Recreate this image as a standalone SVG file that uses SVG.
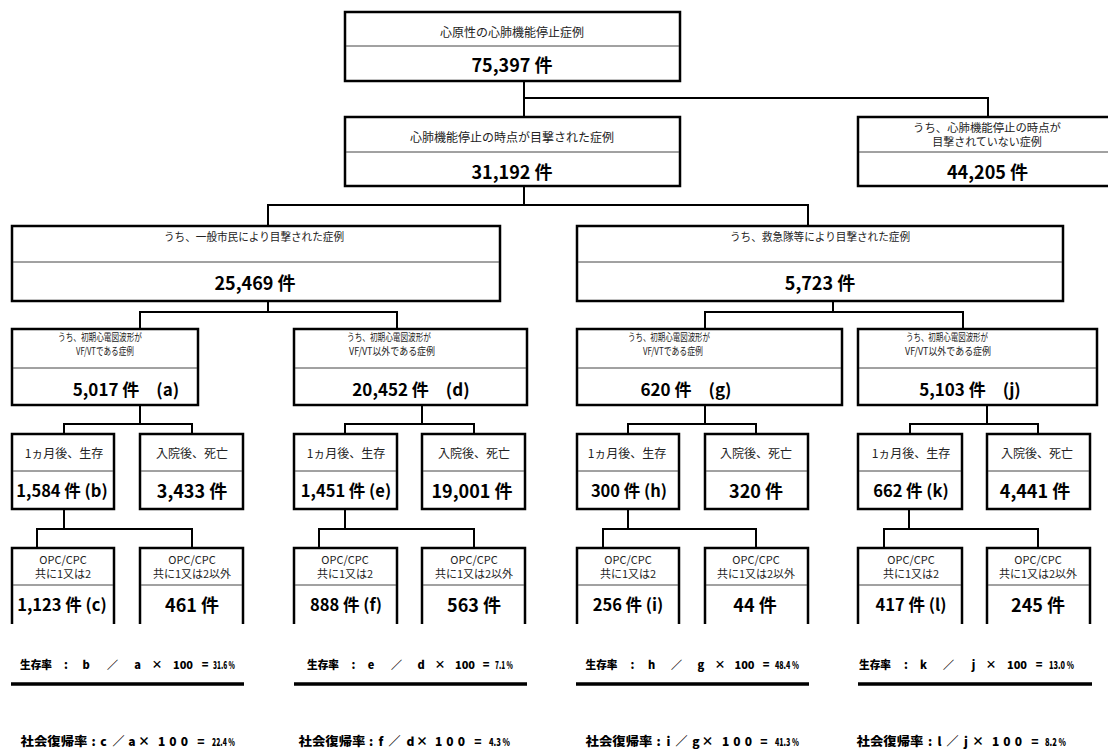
<svg xmlns="http://www.w3.org/2000/svg" width="1108" height="749" viewBox="0 0 1108 749">
<style>
.bg{fill:#fff}
.box{fill:#fff;stroke:#000;stroke-width:2.5}
.ob{fill:none;stroke:#000;stroke-width:2.5}
.dv{stroke:#444;stroke-width:1}
.conn{fill:none;stroke:#000;stroke-width:2}
.rule{fill:none;stroke:#000;stroke-width:3.5}
text{font-family:"Noto Sans CJK JP","Noto Sans",sans-serif;text-anchor:middle;fill:#222}
.t12{font-size:12px}
.t11{font-size:11px}
.t10{font-size:10.5px}
.n18{font-size:18px;font-weight:700;fill:#000}
.n17{font-size:17px;font-weight:700;fill:#000}
.n16{font-size:16.5px;font-weight:700;fill:#000}
.f{font-size:11px;font-weight:900;fill:#000}
.f2{font-size:12px;font-weight:900;fill:#000}
.v{font-size:10px;font-weight:900;fill:#000;text-anchor:start}
</style>
<rect class="bg" x="0" y="0" width="1108" height="749"/>

<g id="connectors">
<path class="conn" d="M524 81V117M524 98H988V117M524 186V205M268 226V205H808V226M268 301V312M140 329V312H397V329M833 301V312M705 329V312H963V329M140 405V424M64 434V424H192V434M422 405V424M345 434V424H474V434M705 405V424M628 434V424H756V434M987 405V424M910 434V424H1038V434M64 509V529M37 548V529H192V548M345 509V529M319 548V529H474V548M628 509V529M603 548V529H756V548M909 509V529M884 548V529H1038V548"/>
</g>

<g id="n-total">
<rect class="box" x="345" y="12" width="335" height="69"/>
<line class="dv" x1="346" y1="46" x2="679" y2="46"/>
<text class="t12" x="512" y="36.5">心原性の心肺機能停止症例</text>
<text class="n18" x="512" y="72">75,397 件</text>
</g>

<g id="n-witnessed">
<rect class="box" x="345" y="117" width="335" height="69"/>
<line class="dv" x1="346" y1="152" x2="679" y2="152"/>
<text class="t12" x="512" y="141.5">心肺機能停止の時点が目撃された症例</text>
<text class="n18" x="512" y="179">31,192 件</text>
</g>

<g id="n-unwitnessed">
<rect class="box" x="858" y="117" width="270" height="69"/>
<line class="dv" x1="859" y1="152" x2="1108" y2="152"/>
<text class="t11"><tspan x="987" y="131.5" textLength="148" lengthAdjust="spacingAndGlyphs">うち、心肺機能停止の時点が</tspan><tspan x="987" y="145.8">目撃されていない症例</tspan></text>
<text class="n18" x="987.5" y="179">44,205 件</text>
</g>

<g id="n-citizen">
<rect class="box" x="12" y="226" width="488" height="75"/>
<line class="dv" x1="13" y1="262" x2="499" y2="262"/>
<text class="t11" x="254" y="241" textLength="180" lengthAdjust="spacingAndGlyphs">うち、一般市民により目撃された症例</text>
<text class="n18" x="255" y="290">25,469 件</text>
</g>

<g id="n-ems">
<rect class="box" x="577" y="226" width="486" height="75"/>
<line class="dv" x1="578" y1="262" x2="1062" y2="262"/>
<text class="t11" x="820" y="241" textLength="180" lengthAdjust="spacingAndGlyphs">うち、救急隊等により目撃された症例</text>
<text class="n18" x="820" y="290">5,723 件</text>
</g>

<g id="n-a">
<rect class="box" x="12" y="329" width="186" height="76"/>
<line class="dv" x1="13" y1="368" x2="197" y2="368"/>
<text class="t10"><tspan x="100" y="341" textLength="84" lengthAdjust="spacingAndGlyphs">うち、初期心電図波形が</tspan><tspan x="105" y="354.5" textLength="58" lengthAdjust="spacingAndGlyphs">VF/VTである症例</tspan></text>
<text class="n17" x="126" y="396">5,017 件　(a)</text>
</g>

<g id="n-d">
<rect class="box" x="294" y="329" width="233" height="76"/>
<line class="dv" x1="295" y1="368" x2="526" y2="368"/>
<text class="t10"><tspan x="389" y="341" textLength="84" lengthAdjust="spacingAndGlyphs">うち、初期心電図波形が</tspan><tspan x="392" y="354.5" textLength="86" lengthAdjust="spacingAndGlyphs">VF/VT以外である症例</tspan></text>
<text class="n17" x="411" y="396">20,452 件　(d)</text>
</g>

<g id="n-g">
<rect class="box" x="577" y="329" width="265" height="76"/>
<line class="dv" x1="578" y1="368" x2="841" y2="368"/>
<text class="t10"><tspan x="669" y="341" textLength="82" lengthAdjust="spacingAndGlyphs">うち、初期心電図波形が</tspan><tspan x="673" y="354.5" textLength="60" lengthAdjust="spacingAndGlyphs">VF/VTである症例</tspan></text>
<text class="n17" x="686" y="396">620 件　(g)</text>
</g>

<g id="n-j">
<rect class="box" x="858" y="329" width="239" height="76"/>
<line class="dv" x1="859" y1="368" x2="1096" y2="368"/>
<text class="t10"><tspan x="947" y="341" textLength="82" lengthAdjust="spacingAndGlyphs">うち、初期心電図波形が</tspan><tspan x="948" y="354.5" textLength="86" lengthAdjust="spacingAndGlyphs">VF/VT以外である症例</tspan></text>
<text class="n17" x="970" y="396">5,103 件　(j)</text>
</g>

<g id="n-b">
<rect class="box" x="12" y="434" width="102" height="75"/>
<line class="dv" x1="13" y1="471" x2="113" y2="471"/>
<text class="t12" x="64" y="458">1ヵ月後、生存</text>
<text class="n16" x="62" y="497">1,584 件 (b)</text>
</g>
<g id="n-a-dead">
<rect class="box" x="140" y="434" width="103" height="75"/>
<line class="dv" x1="141" y1="471" x2="242" y2="471"/>
<text class="t12" x="192" y="458">入院後、死亡</text>
<text class="n18" x="192" y="497.5">3,433 件</text>
</g>
<g id="n-e">
<rect class="box" x="294" y="434" width="103" height="75"/>
<line class="dv" x1="295" y1="471" x2="396" y2="471"/>
<text class="t12" x="346" y="458">1ヵ月後、生存</text>
<text class="n16" x="346" y="497">1,451 件 (e)</text>
</g>
<g id="n-d-dead">
<rect class="box" x="422" y="434" width="103" height="75"/>
<line class="dv" x1="423" y1="471" x2="524" y2="471"/>
<text class="t12" x="474" y="458">入院後、死亡</text>
<text class="n18" x="472" y="497.5">19,001 件</text>
</g>
<g id="n-h">
<rect class="box" x="577" y="434" width="102" height="75"/>
<line class="dv" x1="578" y1="471" x2="678" y2="471"/>
<text class="t12" x="627" y="458">1ヵ月後、生存</text>
<text class="n16" x="629" y="497">300 件 (h)</text>
</g>
<g id="n-g-dead">
<rect class="box" x="705" y="434" width="103" height="75"/>
<line class="dv" x1="706" y1="471" x2="807" y2="471"/>
<text class="t12" x="756" y="458">入院後、死亡</text>
<text class="n18" x="756" y="497.5">320 件</text>
</g>
<g id="n-k">
<rect class="box" x="858" y="434" width="104" height="75"/>
<line class="dv" x1="859" y1="471" x2="961" y2="471"/>
<text class="t12" x="911" y="458">1ヵ月後、生存</text>
<text class="n16" x="911" y="497">662 件 (k)</text>
</g>
<g id="n-j-dead">
<rect class="box" x="987" y="434" width="103" height="75"/>
<line class="dv" x1="988" y1="471" x2="1089" y2="471"/>
<text class="t12" x="1037" y="458">入院後、死亡</text>
<text class="n18" x="1035" y="497.5">4,441 件</text>
</g>

<g id="n-c">
<path class="ob" d="M12 624V548H114V624"/>
<line class="dv" x1="13" y1="585" x2="113" y2="585"/>
<text class="t11"><tspan x="63" y="564">OPC/CPC</tspan><tspan x="63" y="578">共に1又は2</tspan></text>
<text class="n16" x="62" y="611">1,123 件 (c)</text>
</g>
<g id="n-b-other">
<path class="ob" d="M140 624V548H243V624"/>
<line class="dv" x1="141" y1="585" x2="242" y2="585"/>
<text class="t11"><tspan x="192" y="564">OPC/CPC</tspan><tspan x="192" y="578">共に1又は2以外</tspan></text>
<text class="n18" x="192" y="611.5">461 件</text>
</g>
<g id="n-f">
<path class="ob" d="M294 624V548H397V624"/>
<line class="dv" x1="295" y1="585" x2="396" y2="585"/>
<text class="t11"><tspan x="345" y="564">OPC/CPC</tspan><tspan x="345" y="578">共に1又は2</tspan></text>
<text class="n16" x="346" y="611">888 件 (f)</text>
</g>
<g id="n-e-other">
<path class="ob" d="M422 624V548H525V624"/>
<line class="dv" x1="423" y1="585" x2="524" y2="585"/>
<text class="t11"><tspan x="474" y="564">OPC/CPC</tspan><tspan x="474" y="578">共に1又は2以外</tspan></text>
<text class="n18" x="474" y="611.5">563 件</text>
</g>
<g id="n-i">
<path class="ob" d="M577 624V548H679V624"/>
<line class="dv" x1="578" y1="585" x2="678" y2="585"/>
<text class="t11"><tspan x="628" y="564">OPC/CPC</tspan><tspan x="628" y="578">共に1又は2</tspan></text>
<text class="n16" x="628" y="611">256 件 (i)</text>
</g>
<g id="n-h-other">
<path class="ob" d="M705 624V548H808V624"/>
<line class="dv" x1="706" y1="585" x2="807" y2="585"/>
<text class="t11"><tspan x="756" y="564">OPC/CPC</tspan><tspan x="756" y="578">共に1又は2以外</tspan></text>
<text class="n18" x="755" y="611.5">44 件</text>
</g>
<g id="n-l">
<path class="ob" d="M858 624V548H962V624"/>
<line class="dv" x1="859" y1="585" x2="961" y2="585"/>
<text class="t11"><tspan x="911" y="564">OPC/CPC</tspan><tspan x="911" y="578">共に1又は2</tspan></text>
<text class="n16" x="911" y="611">417 件 (l)</text>
</g>
<g id="n-k-other">
<path class="ob" d="M987 624V548H1090V624"/>
<line class="dv" x1="988" y1="585" x2="1089" y2="585"/>
<text class="t11"><tspan x="1038" y="564">OPC/CPC</tspan><tspan x="1038" y="578">共に1又は2以外</tspan></text>
<text class="n18" x="1038" y="611.5">245 件</text>
</g>

<g id="rules">
<path class="rule" d="M11 684H244M294 684H527M576 684H809M858 684H1092"/>
</g>

<g id="formula-1">
<text class="f" y="669"><tspan x="36" textLength="32" lengthAdjust="spacingAndGlyphs">生存率</tspan><tspan x="66">:</tspan><tspan x="86">b</tspan><tspan x="112.5">／</tspan><tspan x="137.5">a</tspan><tspan x="157">×</tspan><tspan x="183">100</tspan><tspan x="205">=</tspan></text>
<text class="v" x="213" y="669" textLength="22" lengthAdjust="spacingAndGlyphs">31.6 %</text>
<text class="f2" y="746"><tspan x="54" textLength="67" lengthAdjust="spacingAndGlyphs">社会復帰率</tspan><tspan x="93.5">:</tspan><tspan x="103.5">c</tspan><tspan x="118.5">／</tspan><tspan x="132">a</tspan><tspan x="144">×</tspan><tspan x="173" textLength="30" lengthAdjust="spacing">100</tspan><tspan x="201">=</tspan></text>
<text class="v" x="212" y="746" textLength="23" lengthAdjust="spacingAndGlyphs">22.4 %</text>
</g>
<g id="formula-2">
<text class="f" y="669"><tspan x="323" textLength="32" lengthAdjust="spacingAndGlyphs">生存率</tspan><tspan x="353.5">:</tspan><tspan x="371">e</tspan><tspan x="396.5">／</tspan><tspan x="421">d</tspan><tspan x="440">×</tspan><tspan x="465">100</tspan><tspan x="486">=</tspan></text>
<text class="v" x="495" y="669" textLength="18" lengthAdjust="spacingAndGlyphs">7.1 %</text>
<text class="f2" y="746"><tspan x="332" textLength="67" lengthAdjust="spacingAndGlyphs">社会復帰率</tspan><tspan x="371">:</tspan><tspan x="381">f</tspan><tspan x="394.5">／</tspan><tspan x="410.5">d</tspan><tspan x="422">×</tspan><tspan x="450" textLength="30" lengthAdjust="spacing">100</tspan><tspan x="478">=</tspan></text>
<text class="v" x="489" y="746" textLength="21" lengthAdjust="spacingAndGlyphs">4.3 %</text>
</g>
<g id="formula-3">
<text class="f" y="669"><tspan x="601.5" textLength="32" lengthAdjust="spacingAndGlyphs">生存率</tspan><tspan x="632.5">:</tspan><tspan x="651.5">h</tspan><tspan x="676.5">／</tspan><tspan x="701">g</tspan><tspan x="720">×</tspan><tspan x="744.5">100</tspan><tspan x="766">=</tspan></text>
<text class="v" x="775" y="669" textLength="24" lengthAdjust="spacingAndGlyphs">48.4 %</text>
<text class="f2" y="746"><tspan x="619" textLength="67" lengthAdjust="spacingAndGlyphs">社会復帰率</tspan><tspan x="658.5">:</tspan><tspan x="668.5">i</tspan><tspan x="681.5">／</tspan><tspan x="696">g</tspan><tspan x="707.5">×</tspan><tspan x="737" textLength="30" lengthAdjust="spacing">100</tspan><tspan x="764">=</tspan></text>
<text class="v" x="775" y="746" textLength="24" lengthAdjust="spacingAndGlyphs">41.3 %</text>
</g>
<g id="formula-4">
<text class="f" y="669"><tspan x="875" textLength="32" lengthAdjust="spacingAndGlyphs">生存率</tspan><tspan x="906">:</tspan><tspan x="923.5">k</tspan><tspan x="948.5">／</tspan><tspan x="973.5">j</tspan><tspan x="991">×</tspan><tspan x="1017">100</tspan><tspan x="1039">=</tspan></text>
<text class="v" x="1049" y="669" textLength="25" lengthAdjust="spacingAndGlyphs">13.0 %</text>
<text class="f2" y="746"><tspan x="890" textLength="67" lengthAdjust="spacingAndGlyphs">社会復帰率</tspan><tspan x="930">:</tspan><tspan x="939.5">l</tspan><tspan x="952.5">／</tspan><tspan x="966">j</tspan><tspan x="978">×</tspan><tspan x="1007" textLength="30" lengthAdjust="spacing">100</tspan><tspan x="1035">=</tspan></text>
<text class="v" x="1045" y="746" textLength="21" lengthAdjust="spacingAndGlyphs">8.2 %</text>
</g>
</svg>
